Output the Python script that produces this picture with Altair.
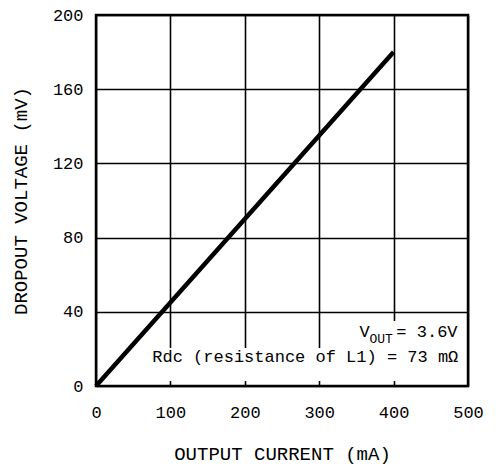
import altair as alt
import pandas as pd

# data
current_ma = [0, 100, 200, 300, 400]
dropout_mv = [0, 45, 90, 135, 180]

x_ticks = [0, 100, 200, 300, 400, 500]
y_ticks = [0, 40, 80, 120, 160, 200]

# annotation text (data coordinates)
ann_main_text = ["= 3.6V", "Rdc (resistance of L1) = 73 m\u03a9"]
ann_main_x = [486, 487]
ann_main_y = [26.4, 12.9]
ann_main_size = [17, 17]
ann_v_text = ["V"]
ann_v_x = [368]
ann_v_y = [26.4]
ann_sub_text = ["OUT"]
ann_sub_x = [399]
ann_sub_y = [23.0]
# white backgrounds behind the two annotation lines
box_x = [326, 59]
box_x2 = [492, 492]
box_y = [20.5, 2.7]
box_y2 = [35, 20.5]

FONT = "Liberation Mono"

line_df = pd.DataFrame({"I": current_ma, "V": dropout_mv})
box_df = pd.DataFrame({"I": box_x, "I2": box_x2, "V": box_y, "V2": box_y2})
main_df = pd.DataFrame({"I": ann_main_x, "V": ann_main_y, "t": ann_main_text, "s": ann_main_size})
v_df = pd.DataFrame({"I": ann_v_x, "V": ann_v_y, "t": ann_v_text})
sub_df = pd.DataFrame({"I": ann_sub_x, "V": ann_sub_y, "t": ann_sub_text})

xs = alt.Scale(domain=[0, 500], nice=False)
ys = alt.Scale(domain=[0, 200], nice=False)
xaxis = alt.Axis(values=x_ticks, title="OUTPUT CURRENT (mA)", labelPadding=18,
                 titlePadding=24, labelFlush=False)
yaxis = alt.Axis(values=y_ticks, title="DROPOUT VOLTAGE (mV)", labelPadding=13,
                 titlePadding=22, labelFlush=False)


def X(field="I"):
    return alt.X(f"{field}:Q", scale=xs, axis=xaxis)


def Y(field="V"):
    return alt.Y(f"{field}:Q", scale=ys, axis=yaxis)


line = alt.Chart(line_df).mark_line(color="black", strokeWidth=4.5, strokeCap="butt").encode(
    x=X(), y=Y())

box = alt.Chart(box_df).mark_rect(color="white").encode(
    x=X(), x2="I2:Q", y=Y(), y2="V2:Q")

main_txt = alt.Chart(main_df).mark_text(align="right", baseline="alphabetic", font=FONT,
                                        color="black").encode(
    x=X(), y=Y(), text="t:N", size=alt.Size("s:Q", scale=None, legend=None))
v_txt = alt.Chart(v_df).mark_text(align="right", baseline="alphabetic", font=FONT,
                                  fontSize=17, color="black").encode(
    x=X(), y=Y(), text="t:N")
sub_txt = alt.Chart(sub_df).mark_text(align="right", baseline="alphabetic", font=FONT,
                                      fontSize=13, color="black").encode(
    x=X(), y=Y(), text="t:N")

chart = alt.layer(box, line, main_txt, v_txt, sub_txt).properties(
    width=372, height=371,
    autosize=alt.AutoSizeParams(type="none"),
    padding={"left": 88, "top": 7, "right": 23, "bottom": 81},
).configure_view(
    stroke="black", strokeWidth=2.5
).configure_axis(
    grid=True, gridColor="black", gridWidth=1.6, gridOpacity=1,
    domain=False, ticks=False,
    labelFont=FONT, labelFontSize=17, labelColor="black",
    titleFont=FONT, titleFontSize=19, titleFontWeight="normal", titleColor="black",
)

chart.save("out.html", embed_options={"renderer": "svg", "actions": False})
